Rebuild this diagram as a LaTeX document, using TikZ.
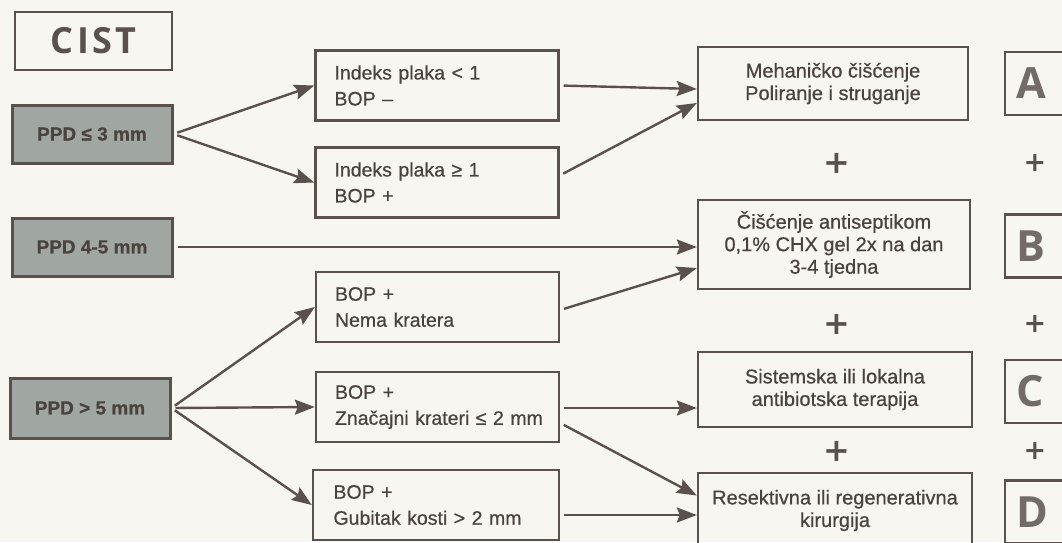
\documentclass[tikz,border=0pt]{standalone}
\usepackage{fontspec}
\usepackage{graphicx}
\setmainfont{Liberation Sans}[FakeBold=0.6]
\newfontfamily\cistfont{Open Sans}
\newfontfamily\plusfont{DejaVu Sans}
\usetikzlibrary{arrows.meta}
\definecolor{ink}{HTML}{5A514C}
\definecolor{txt}{HTML}{4A423E}
\definecolor{paper}{HTML}{F8F6F1}
\definecolor{ppdgray}{HTML}{A0A7A3}
\tikzset{
  box/.style={draw=ink, line width=2.4pt, inner sep=0pt, text=txt},
  ppdbox/.style={box, fill=ppdgray, line width=3pt, minimum width=160pt, minimum height=58pt,
    font=\bfseries\fontsize{19}{20}\selectfont, text=txt},
  midbox/.style={box, minimum width=243pt, minimum height=70pt, text width=205pt, align=left,
    font=\fontsize{19.5}{26}\selectfont},
  resbox/.style={box, minimum height=73pt, align=center, font=\fontsize{20}{22.5}\selectfont},
  letterbox/.style={box, minimum height=63pt, text width=66pt, inner xsep=11pt, align=left,
    font=\cistfont\bfseries\fontsize{43}{43}\selectfont, text=ink!85},
  plus/.style={text=ink, font=\plusfont\bfseries\fontsize{32}{32}\selectfont, inner sep=0pt},
  smallplus/.style={text=ink, font=\plusfont\bfseries\fontsize{27}{27}\selectfont, inner sep=0pt},
  arr/.style={draw=ink, line width=2.4pt, shorten <=4pt,
    -{Stealth[length=20pt,width=15pt,inset=3pt]}},
}
\begin{document}
\begin{tikzpicture}[x=1pt,y=-1pt]
\useasboundingbox (0,0) rectangle (1062,542);
\fill[paper] (0,0) rectangle (1062,542);
\clip (0,0) rectangle (1062,542);

% left column
\node[box, minimum width=157pt, minimum height=58pt, font=\cistfont\bfseries\fontsize{36}{36}\selectfont, text=ink]
  (cist) at (93.5,41) {\addfontfeature{LetterSpace=9}CIST};
\node[ppdbox] (p1) at (92,134) {PPD ≤ 3 mm};
\node[ppdbox] (p2) at (92,247) {PPD 4-5 mm};
\node[ppdbox, minimum height=60pt] (p3) at (90,408) {PPD > 5 mm};

% middle column
\node[midbox] (i1) at (437,85.5) {\mbox{Indeks plaka < 1}\\BOP –};
\node[midbox] (i2) at (437,182.5) {\mbox{Indeks plaka ≥ 1}\\BOP +};
\node[midbox] (b1) at (437.5,307) {BOP +\\\mbox{Nema kratera}};
\node[midbox] (b2) at (437.5,407) {BOP +\\\mbox{Značajni krateri ≤ 2 mm}};
\node[midbox, minimum width=246pt] (b3) at (436,505) {BOP +\\\mbox{Gubitak kosti > 2 mm}};

% right column
\node[resbox, minimum width=270pt] (r1) at (833,83.5) {Mehaničko čišćenje\\Poliranje i struganje};
\node[resbox, minimum width=272pt, minimum height=89pt] (r2) at (834,244.5) {Čišćenje antiseptikom\\0,1\% CHX gel 2x na dan\\3-4 tjedna};
\node[resbox, minimum width=274pt, minimum height=75pt] (r3) at (835,389.5) {Sistemska ili lokalna\\antibiotska terapija};
\node[resbox, minimum width=274pt, minimum height=75pt] (r4) at (835,510.5) {Resektivna ili regenerativna\\kirurgija};

\node[plus] (pl1) at (837,163) {+};
\node[plus] (pl2) at (837,324) {+};
\node[plus] (pl3) at (837,451) {+};

% letter column
\node[letterbox, anchor=west] (la) at (1004,83.5) {A};
\node[letterbox, anchor=west] (lb) at (1004,246) {B};
\node[letterbox, anchor=west] (lc) at (1004,391.5) {C};
\node[letterbox, anchor=west] (ld) at (1004,512) {D};

\node[smallplus] (sp1) at (1035,163) {+};
\node[smallplus] (sp2) at (1035,324) {+};
\node[smallplus] (sp3) at (1035,451) {+};

% arrows
\draw[arr] (p1.east) -- (i1.west);
\draw[arr] (p1.east) -- (i2.west);
\draw[arr] (p2.east) -- (p2.east -| r2.west);
\draw[arr] (p3.east) -- (b1.west);
\draw[arr] (p3.east) -- (b2.west);
\draw[arr] (p3.east) -- (b3.west);

\draw[arr] (i1.east) -- ([yshift=-5.5pt]r1.west);
\draw[arr] ([yshift=7pt]i2.east) -- ([yshift=-19.5pt]r1.west);
\draw[arr] ([yshift=-3pt]b1.east) -- ([yshift=-23.5pt]r2.west);
\draw[arr] ([yshift=-1pt]b2.east) -- ([yshift=-18.5pt]r3.west);
\draw[arr] ([yshift=-16pt]b2.east) -- ([yshift=15pt]r4.west);
\draw[arr] ([yshift=-10pt]b3.east) -- ([yshift=-4.5pt]r4.west);
\end{tikzpicture}
\end{document}
